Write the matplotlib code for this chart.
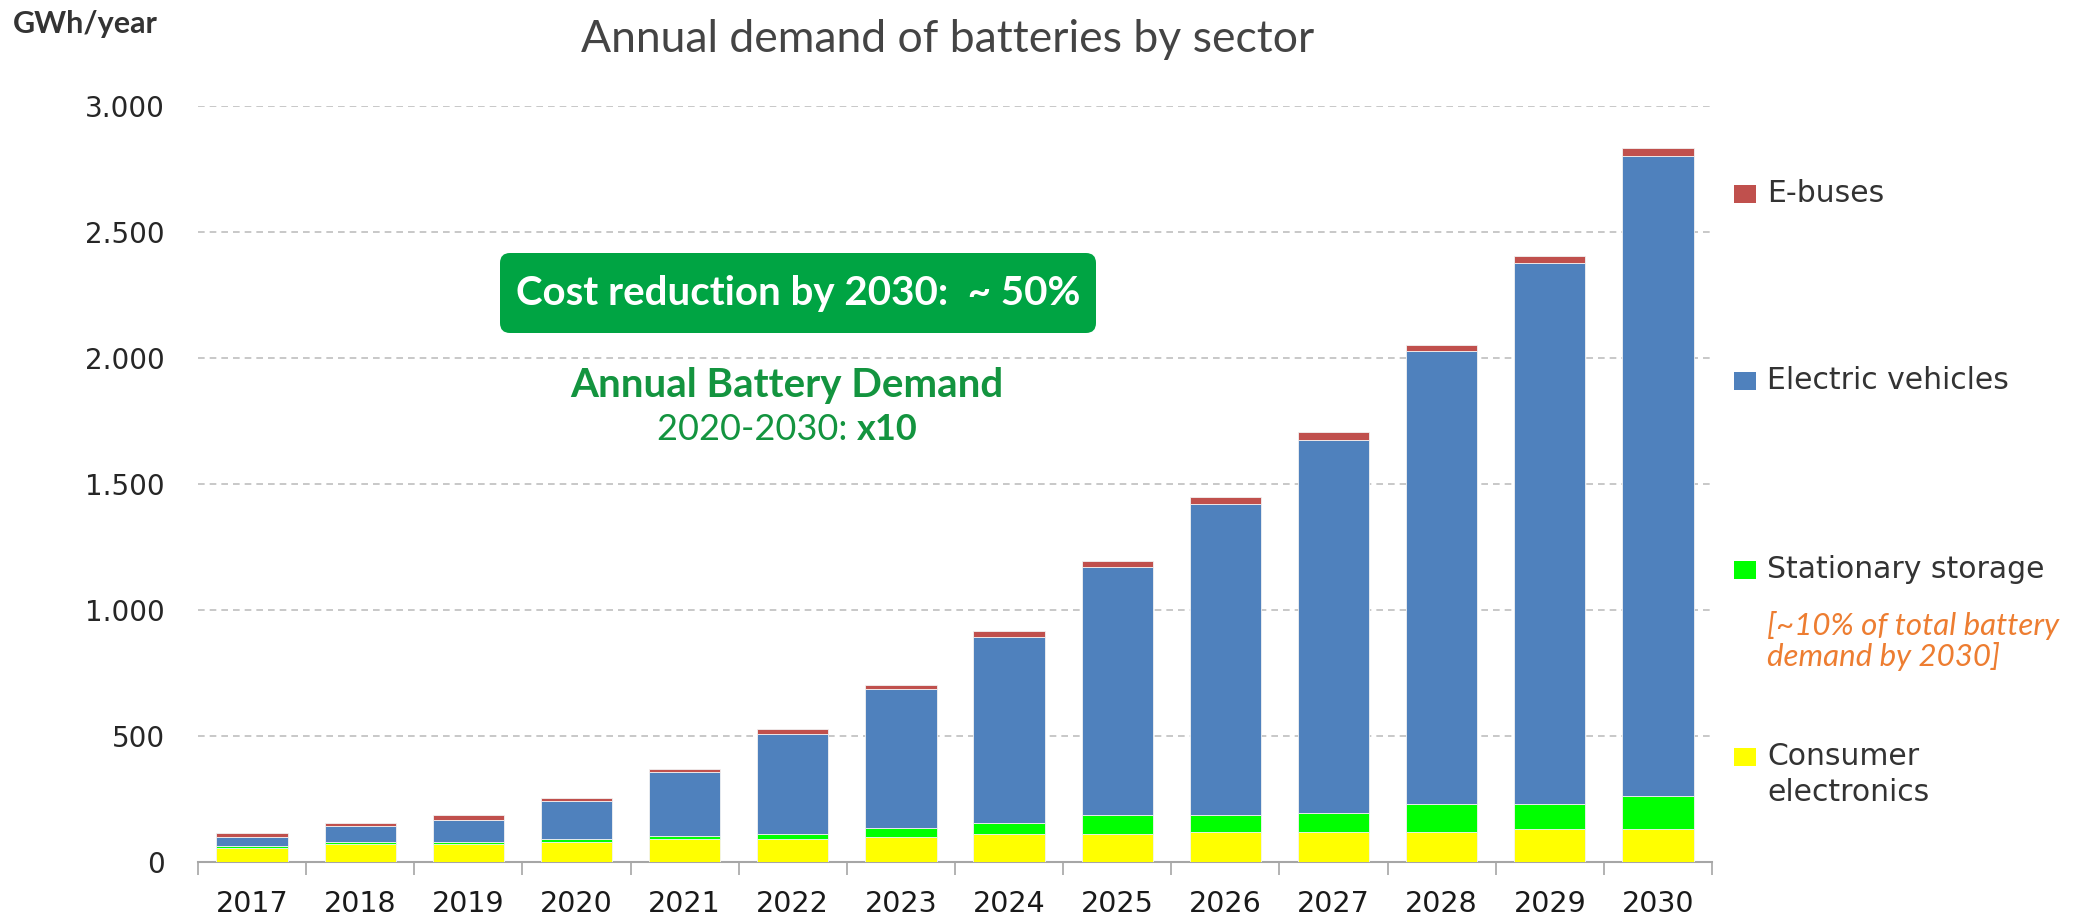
import matplotlib
matplotlib.use("Agg")
import matplotlib.pyplot as plt
import numpy as np
from matplotlib.patches import FancyBboxPatch, Rectangle
from matplotlib.ticker import FuncFormatter, FixedLocator

years = ["2017", "2018", "2019", "2020", "2021", "2022", "2023",
         "2024", "2025", "2026", "2027", "2028", "2029", "2030"]
consumer = [57, 71, 71, 80, 90, 90, 100, 110, 110, 120, 120, 120, 131, 131]
stationary = [5, 9, 9, 11, 13, 21, 34, 43, 75, 65, 76, 109, 98, 130]
ev = [38, 64, 87, 151, 255, 397, 551, 739, 987, 1234, 1479, 1800, 2149, 2541]
ebuses = [14, 12, 19, 11, 11, 21, 18, 25, 22, 31, 32, 23, 27, 32]

colors = ["#FFFF00", "#00FF00", "#4F81BD", "#C0504D"]

W, H = 2079, 923
fig = plt.figure(figsize=(W / 100, H / 100), dpi=100)

def fx(x):
    return x / W

def fy(y):
    return 1 - y / H

ax = fig.add_axes([fx(198), fy(862), fx(1712) - fx(198), fy(106) - fy(862)])
x = np.arange(len(years))
bottom = np.zeros(len(years))
for vals, c in zip([consumer, stationary, ev, ebuses], colors):
    ax.bar(x, vals, width=0.66, bottom=bottom, color=c, edgecolor="#F2F2F2", linewidth=0.6, zorder=3)
    bottom += np.array(vals)

ax.set_xlim(-0.5, len(years) - 0.5)
ax.set_ylim(0, 3000)
ax.set_yticks(np.arange(0, 3001, 500))
ax.yaxis.set_major_formatter(FuncFormatter(lambda v, p: f"{int(v):,}".replace(",", ".")))
ax.grid(axis="y", color="#BFBFBF", linestyle=(0, (4, 3)), linewidth=1.2, zorder=0)
ax.set_xticks(x)
ax.set_xticklabels(years)
ax.xaxis.set_minor_locator(FixedLocator(np.arange(-0.5, len(years), 1.0)))
ax.tick_params(axis="x", which="major", length=0, pad=20, labelsize=20.5, labelcolor="#1a1a1a")
ax.tick_params(axis="x", which="minor", length=9, color="#A6A6A6", width=1.2)
ax.tick_params(axis="y", length=0, pad=24, labelsize=20, labelcolor="#262626")
for s in ["top", "right", "left"]:
    ax.spines[s].set_visible(False)
ax.spines["bottom"].set_color("#A6A6A6")
ax.spines["bottom"].set_linewidth(1.5)

# Title and unit
fig.text(fx(948), fy(40), "Annual demand of batteries by sector", ha="center", va="center",
         fontsize=32, color="#444444", family="Lato")
fig.text(fx(13), fy(24), "GWh/year", ha="left", va="center", fontsize=22,
         fontweight="bold", color="#333333", family="Lato")

# Green box
box = FancyBboxPatch((500, H - 333), 596, 80, boxstyle="round,pad=0,rounding_size=10",
                     transform=None, facecolor="#00A443", edgecolor="none", zorder=5)
fig.add_artist(box)
fig.text(fx(798), fy(293), "Cost reduction by 2030:  ~ 50%", ha="center", va="center",
         fontsize=29, fontweight="bold", color="white", family="Lato", zorder=6)

green_txt = "#13943F"
fig.text(fx(787), fy(385), "Annual Battery Demand", ha="center", va="center",
         fontsize=29, fontweight="bold", color=green_txt, family="Lato")

# "2020-2030: x10" with bold x10, centred as a whole
renderer = fig.canvas.get_renderer()
p1 = fig.text(0, fy(430), "2020-2030: ", ha="left", va="center", fontsize=26,
              color=green_txt, family="Lato")
p2 = fig.text(0, fy(430), "x10", ha="left", va="center", fontsize=26,
              fontweight="bold", color=green_txt, family="Lato")
w1 = p1.get_window_extent(renderer).width
w2 = p2.get_window_extent(renderer).width
start = 787 - (w1 + w2) / 2
p1.set_x(fx(start))
p2.set_x(fx(start + w1))

# Legend
legend_items = [("E-buses", colors[3], 194),
                ("Electric vehicles", colors[2], 381),
                ("Stationary storage", colors[1], 570),
                ("Consumer\nelectronics", colors[0], 757)]
for label, c, yc in legend_items:
    fig.add_artist(Rectangle((1734, H - yc - 9), 22, 18, transform=None,
                             facecolor=c, edgecolor="none"))
    if "\n" in label:
        fig.text(fx(1767), fy(yc - 15), label, ha="left", va="top", fontsize=21.5,
                 color="#333333", linespacing=1.3)
    else:
        fig.text(fx(1767), fy(yc), label, ha="left", va="center", fontsize=21.5,
                 color="#333333")

fig.text(fx(1767), fy(641), "[~10% of total battery\ndemand by 2030]", ha="left", va="center",
         fontsize=22.5, style="italic", color="#ED7D31", linespacing=1.05, family="Lato")

fig.savefig("out.png", dpi=100)
